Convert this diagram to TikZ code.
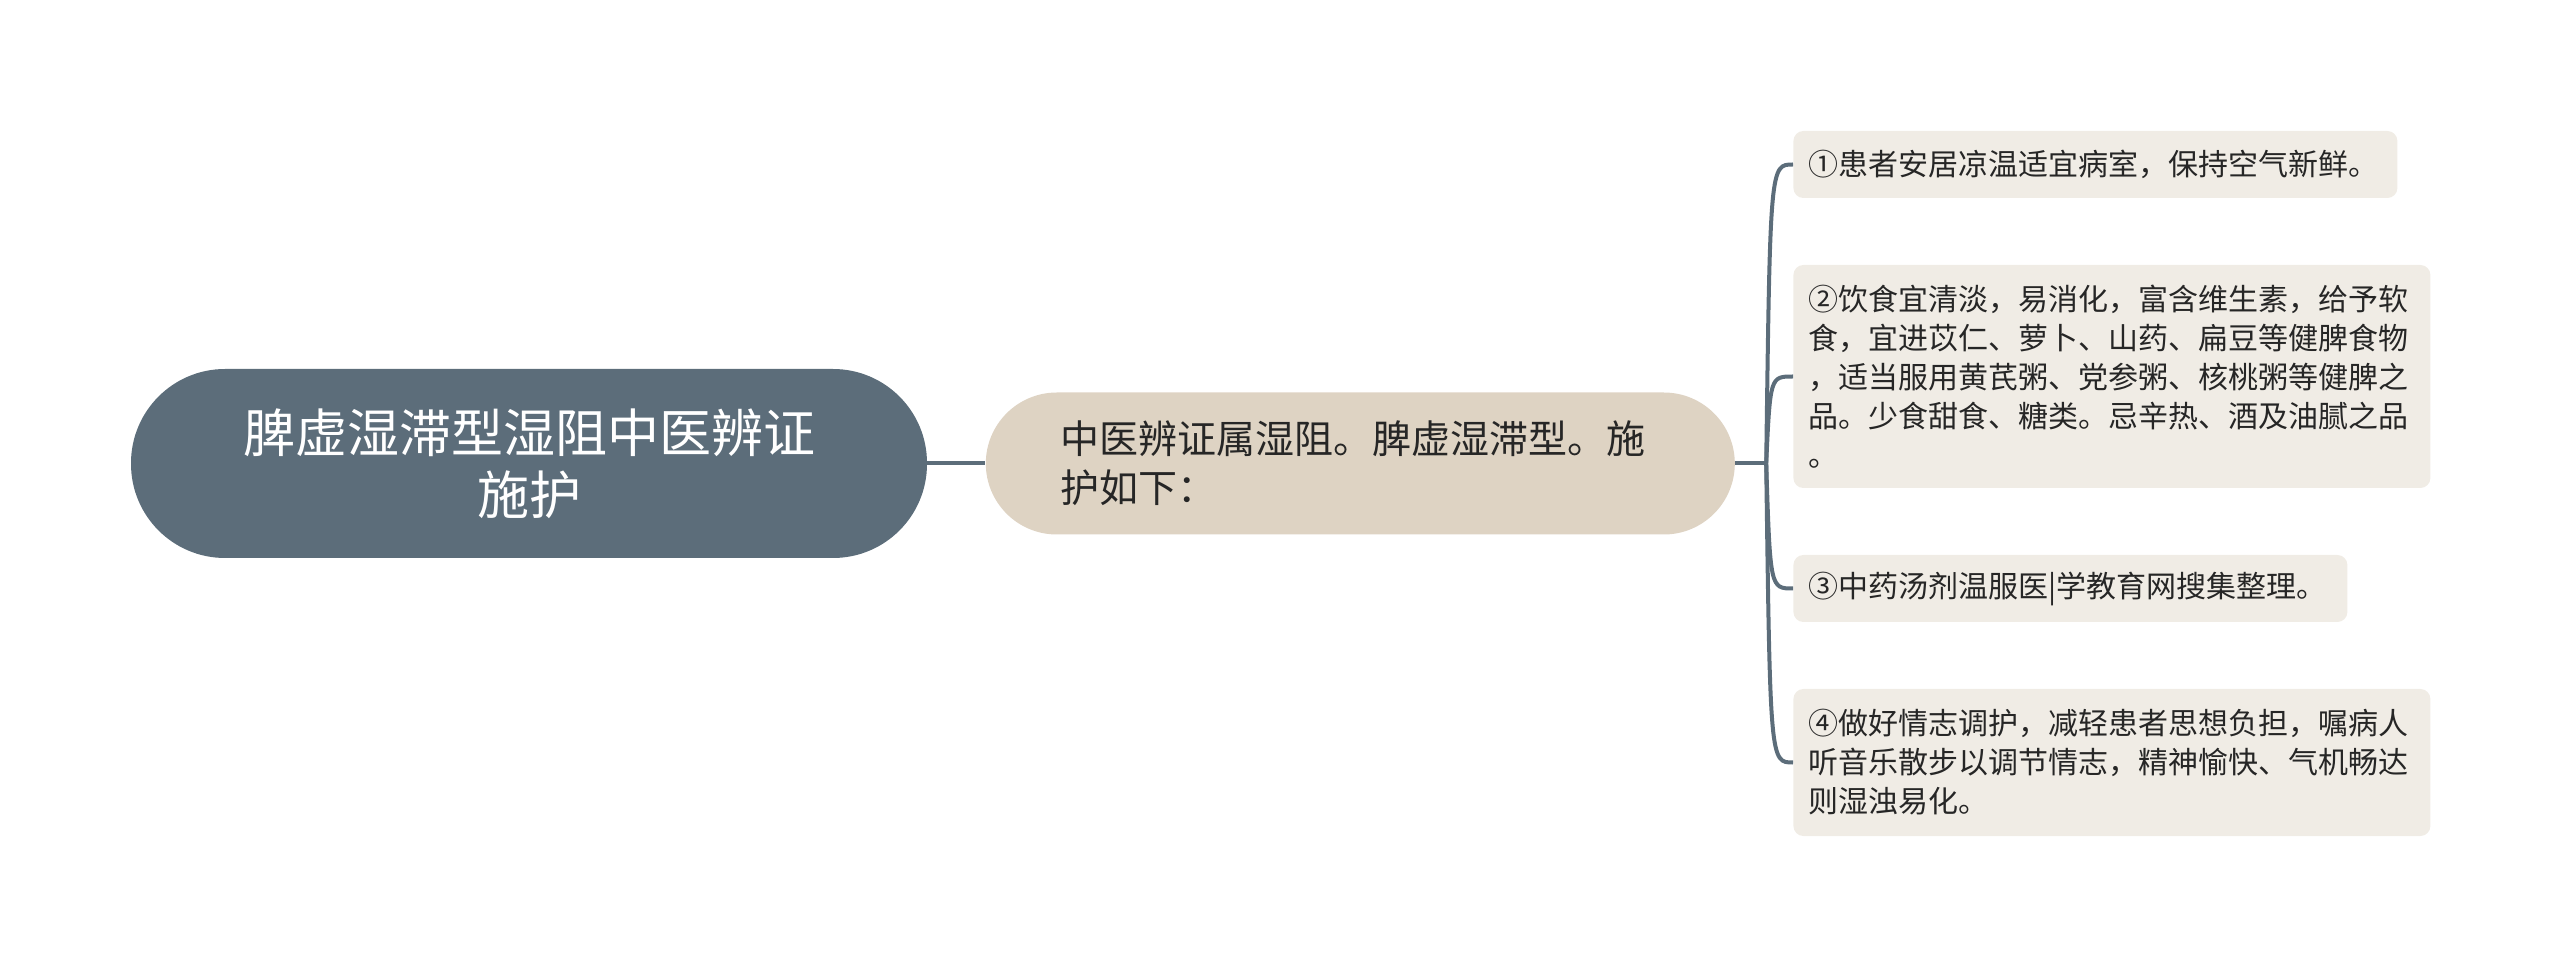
\documentclass[tikz,border=0pt]{standalone}
\usepackage{fontspec}
\setmainfont{Noto Sans CJK SC}
\usepackage{xcolor}
\definecolor{colorRoot}{HTML}{5C6D7A}
\definecolor{colorMain}{HTML}{DED3C3}
\definecolor{colorLeaf}{HTML}{F0ECE5}
\definecolor{colorText}{HTML}{262626}
\usepackage{tikz}
\usetikzlibrary{positioning}
\tikzset{link/.style={draw=colorRoot, line width=2pt}}

\begin{document}
\begin{tikzpicture}[x=0.5pt, y=-0.5pt,
  rootnode/.style={fill=colorRoot, text=white, rounded corners=47pt, minimum width=398pt, minimum height=94.5pt, align=center, inner sep=0pt, font=\fontsize{26}{31}\selectfont},
  mainnode/.style={fill=colorMain, text=colorText, rounded corners=35.5pt, minimum width=374.5pt, minimum height=71pt, text width=300pt, align=left, inner sep=0pt, font=\fontsize{19.5}{24.5}\selectfont},
  leafnode/.style={fill=colorLeaf, text=colorText, rounded corners=5pt, inner xsep=7.5pt, inner ysep=0pt, align=left, anchor=west, font=\fontsize{15}{19.5}\selectfont}]
\useasboundingbox (0,0) rectangle (2560,967);
\node[rootnode] (root) at (529,463.5) {脾虚湿滞型湿阻中医辨证\\施护};
\node[mainnode, right=29pt of root] (cause) {中医辨证属湿阻。脾虚湿滞型。施\\护如下：};
\coordinate[right=15.5pt of cause.east] (junction);
\node[leafnode, text width=287pt, minimum height=33.5pt] (care1) at (1793,164.5) {①患者安居凉温适宜病室，保持空气新鲜。};
\node[leafnode, text width=303.5pt, minimum height=111.5pt] (care2) at (1793,376.5) {②饮食宜清淡，易消化，富含维生素，给予软\\食，宜进苡仁、萝卜、山药、扁豆等健脾食物\\，适当服用黄芪粥、党参粥、核桃粥等健脾之\\品。少食甜食、糖类。忌辛热、酒及油腻之品\\。};
\node[leafnode, text width=262pt, minimum height=33.5pt] (care3) at (1793,588.5) {③中药汤剂温服医|学教育网搜集整理。};
\node[leafnode, text width=303.5pt, minimum height=73.5pt] (care4) at (1793,762.5) {④做好情志调护，减轻患者思想负担，嘱病人\\听音乐散步以调节情志，精神愉快、气机畅达\\则湿浊易化。};
\draw[link] (root) -- (cause);
\draw[link] (cause) -- (junction);
\foreach \n in {care1,care2,care3,care4}
  \draw[link] (junction) .. controls ([xshift=2pt]junction |- \n.west) .. (\n.west);
\end{tikzpicture}
\end{document}
